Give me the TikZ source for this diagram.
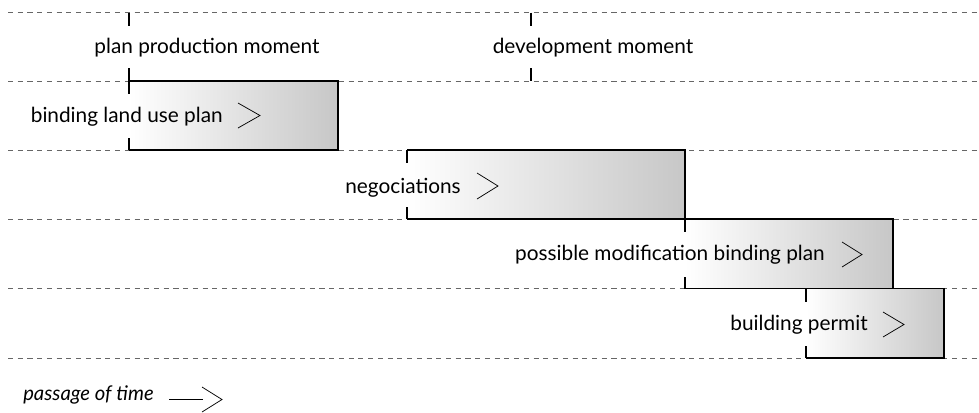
\documentclass[tikz,border=0pt]{standalone}
\usepackage{fontspec}
\setmainfont{Lato}
\begin{document}
\begin{tikzpicture}[x=0.75pt,y=-0.75pt,
  lane/.style={draw=black!60,line width=0.75pt,dash pattern=on 3.8pt off 3.5pt},
  edge/.style={draw=black,line width=1pt},
  tick/.style={draw=black,line width=1pt},
  chev/.style={draw=black,line width=0.55pt,line join=miter},
  lbl/.style={inner sep=0pt,font=\fontsize{15.6}{17}\selectfont},
  phase/.style={left color=white,right color=black!22}]
\useasboundingbox (0,0) rectangle (979,412);

% swim-lane separators
\foreach \y/\n in {12.5/l0,81/l1,150/l2,219/l3,288.5/l4,358/l5}{
  \coordinate (\n w) at (8,\y);
  \coordinate (\n e) at (979,\y);
  \draw[lane] (\n w) -- (\n e);
}

% moments on the time axis
\coordinate (pm) at (129,12.5);
\coordinate (dm) at (531,12.5);
\draw[tick] (pm) -- ++(0,13.5);
\draw[tick] (129,68) -- (129,81);
\draw[tick] (dm) -- ++(0,13.5);
\draw[tick] (531,68) -- (531,81);
\node[lbl,anchor=base] (pmt) at (207,53) {plan production moment};
\node[lbl,anchor=base] (dmt) at (593,53) {development moment};

% phase bars: shaded body, open left side with short ticks
\foreach \x/\X/\t/\b/\n in {129/338/81/150/b1,407/685/150/219/b2,685/893/219/288.5/b3,806/944/288.5/358/b4}{
  \shade[phase] (\x,\t) rectangle (\X,\b);
  \coordinate (\n nw) at (\x,\t);
  \coordinate (\n ne) at (\X,\t);
  \coordinate (\n se) at (\X,\b);
  \coordinate (\n sw) at (\x,\b);
  \draw[edge] (\n nw) -- (\n ne) -- (\n se) -- (\n sw);
  \draw[tick] (\n nw) -- ++(0,13);
  \draw[tick] (\n sw) -- ++(0,-12);
}

% phase labels with their direction marks
\node[lbl,anchor=base east] (t1) at (223,122) {binding land use plan};
\draw[chev] (238,103) -- (260,115.5) -- (238,128);
\node[lbl,anchor=base east] (t2) at (461,193) {negociations};
\draw[chev] (477,173) -- (498,186) -- (477,199);
\node[lbl,anchor=base east] (t3) at (825,260) {possible modification binding plan};
\draw[chev] (842,242) -- (862,254.5) -- (842,267);
\node[lbl,anchor=base east] (t4) at (868,330) {building permit};
\draw[chev] (883,312) -- (904,324.5) -- (883,337);

% legend
\node[lbl,anchor=base west,font=\fontsize{15.2}{17}\selectfont\itshape] (pt) at (23,400) {passage of time};
\coordinate (ta) at (169,399.5);
\coordinate (tc) at (203,399.5);
\coordinate (tb) at (222,399.5);
\draw[chev] (ta) -- (tc);
\draw[chev] (202,387) -- (tb) -- (202,412);
\end{tikzpicture}
\end{document}
